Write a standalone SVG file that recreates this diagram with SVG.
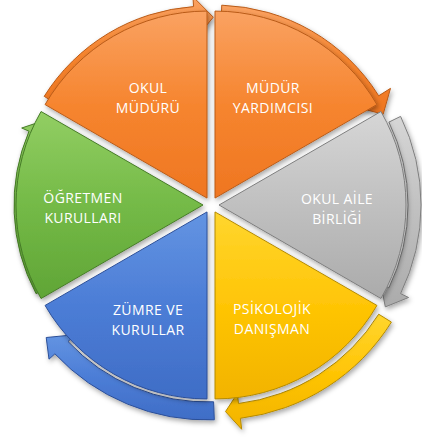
<svg xmlns="http://www.w3.org/2000/svg" width="422" height="441" viewBox="0 0 422 441">
<defs>
  <filter id="sh" x="-20%" y="-20%" width="140%" height="140%">
    <feDropShadow dx="1.5" dy="2.5" stdDeviation="2.5" flood-color="#000" flood-opacity="0.35"/>
  </filter>
  <linearGradient id="gO" x1="0" y1="0" x2="0" y2="1">
    <stop offset="0" stop-color="#FAA262"/><stop offset="0.5" stop-color="#F6852F"/><stop offset="1" stop-color="#EF7621"/>
  </linearGradient>
  <linearGradient id="gG" x1="0" y1="0" x2="0" y2="1">
    <stop offset="0" stop-color="#D6D6D6"/><stop offset="0.5" stop-color="#C0C0C0"/><stop offset="1" stop-color="#ABABAB"/>
  </linearGradient>
  <linearGradient id="gY" x1="0" y1="0" x2="0" y2="1">
    <stop offset="0" stop-color="#FFD62E"/><stop offset="0.5" stop-color="#FFC506"/><stop offset="1" stop-color="#F2B300"/>
  </linearGradient>
  <linearGradient id="gB" x1="0" y1="0" x2="0" y2="1">
    <stop offset="0" stop-color="#6394E2"/><stop offset="0.5" stop-color="#4C7DD6"/><stop offset="1" stop-color="#3F6DC6"/>
  </linearGradient>
  <linearGradient id="gN" x1="0" y1="0" x2="0" y2="1">
    <stop offset="0" stop-color="#92CE63"/><stop offset="0.5" stop-color="#74BA47"/><stop offset="1" stop-color="#60A536"/>
  </linearGradient>
</defs>
<style>
  .w { filter: url(#sh); stroke-width: 1; stroke-linejoin: round; }
  .a { filter: url(#sh); stroke-width: 1; stroke-linejoin: round; }
  .o { fill: url(#gO); stroke: #B95B18; }
  .g { fill: url(#gG); stroke: #7E7E7E; }
  .y { fill: url(#gY); stroke: #B48A00; }
  .b { fill: url(#gB); stroke: #2C4F98; }
  .n { fill: url(#gN); stroke: #467C27; }
  .t { font-family: "Open Sans", "Liberation Sans", sans-serif; font-size: 14px; letter-spacing: 0.4px; fill: #FFFFFF; text-anchor: middle; }
</style>

<g id="connectors">
  <path class="a o" d="M 44.2 96.35 A 192 192 0 0 1 193.6 6.57 L 192.9 -3.4 L 213.3 17.17 L 195.8 38.47 L 195.1 28.47 A 170 170 0 0 0 62.8 107.97 Z"/>
  <path class="a o" d="M 221.74 5.17 A 193 193 0 0 1 378.7 95.8 L 390.5 88.37 L 383.2 114.17 L 359.2 107.97 L 365.1 104.27 A 177 177 0 0 0 221.18 21.17 Z"/>
  <path class="a g" d="M 400.6 116.4 A 202 202 0 0 1 400.6 293.6 L 408.6 297.5 L 385.3 306.9 L 380.8 283.9 L 388.9 287.9 A 189 189 0 0 0 388.9 122.1 Z"/>
  <path class="a y" d="M 391.4 322.1 A 208 208 0 0 1 240.4 418.3 L 241.7 429.3 L 225.5 411.6 L 237.3 393.5 L 238.5 403.5 A 193 193 0 0 0 378.7 314.2 Z"/>
  <path class="a b" d="M 214.3 419.8 A 208 208 0 0 1 54.9 353.8 L 49.0 359.2 L 46.2 337.5 L 75.3 334.7 L 68.0 341.5 A 190 190 0 0 0 213.6 401.8 Z"/>
  <path class="a n" d="M 36.1 293.7 A 189 189 0 0 1 29.0 131.2 L 21.7 128.0 L 44.1 120.5 L 55.7 142.5 L 48.4 139.4 A 168 168 0 0 0 54.7 283.9 Z"/>
</g>

<g id="ogretmen-kurullari">
  <path class="w n" d="M 203 205 L 41.06 298.5 A 187 187 0 0 1 41.06 111.5 Z"/>
  <text class="t" x="83" y="202.5">ÖĞRETMEN</text>
  <text class="t" x="83" y="222.5">KURULLARI</text>
</g>
<g id="okul-muduru">
  <path class="w o" d="M 207 198.07 L 45.06 104.57 A 187 187 0 0 1 207 11.07 Z"/>
  <text class="t" x="148" y="92.5">OKUL</text>
  <text class="t" x="148" y="112.5">MÜDÜRÜ</text>
</g>
<g id="mudur-yardimcisi">
  <path class="w o" d="M 215 198.07 L 215 11.07 A 187 187 0 0 1 376.94 104.57 Z"/>
  <text class="t" x="273" y="92.5">MÜDÜR</text>
  <text class="t" x="273" y="113">YARDIMCISI</text>
</g>
<g id="okul-aile-birligi">
  <path class="w g" d="M 219 205 L 380.94 111.5 A 187 187 0 0 1 380.94 298.5 Z"/>
  <text class="t" x="337" y="203.5">OKUL AİLE</text>
  <text class="t" x="337" y="223.5">BİRLİĞİ</text>
</g>
<g id="psikolojik-danisman">
  <path class="w y" d="M 215 211.93 L 376.94 305.43 A 187 187 0 0 1 215 398.93 Z"/>
  <text class="t" x="272" y="313.5">PSİKOLOJİK</text>
  <text class="t" x="272" y="333.5">DANIŞMAN</text>
</g>
<g id="zumre-ve-kurullar">
  <path class="w b" d="M 207 211.93 L 207 398.93 A 187 187 0 0 1 45.06 305.43 Z"/>
  <text class="t" x="148" y="314.5">ZÜMRE VE</text>
  <text class="t" x="148" y="334.5">KURULLAR</text>
</g>
</svg>
